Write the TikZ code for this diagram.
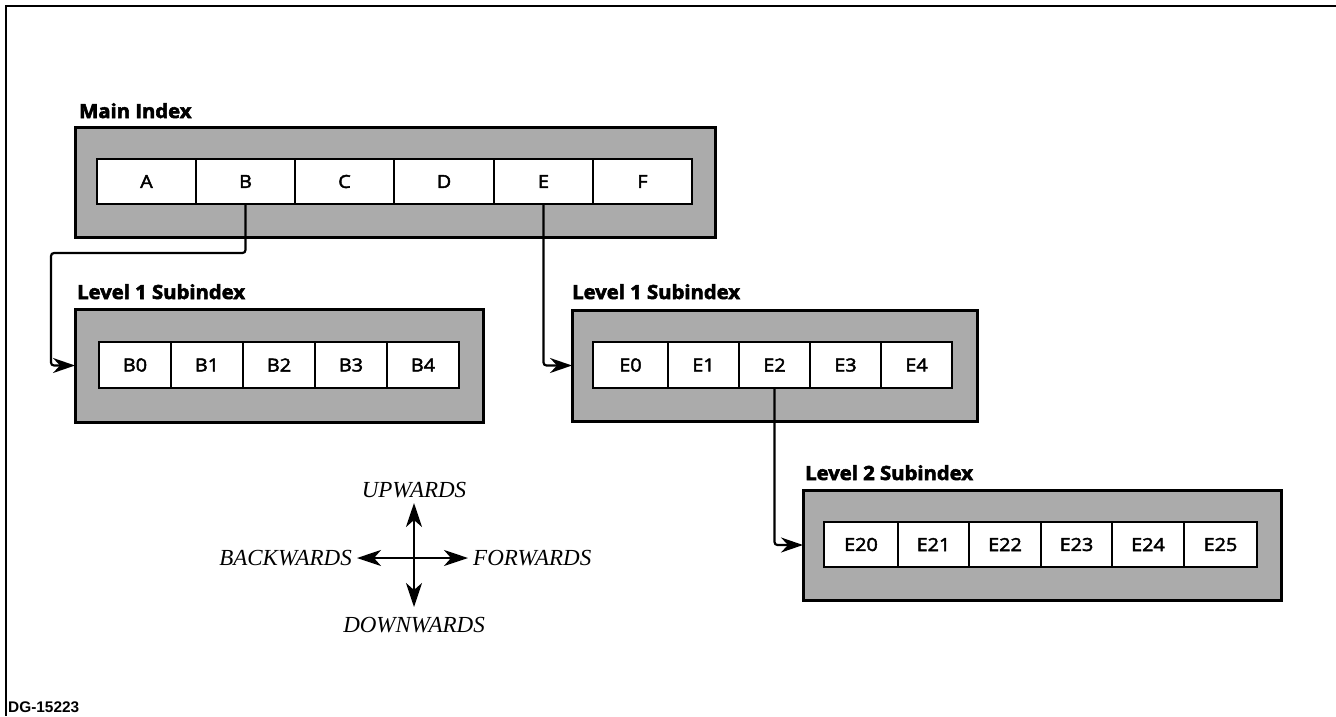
\documentclass[tikz,border=0pt]{standalone}
\usepackage{fontspec}
\setmainfont{Liberation Serif}
\newfontfamily\lblfont{Open Sans}[FakeStretch=1.04, BoldFeatures={FakeBold=3}]
\newfontfamily\cellfont{Open Sans}[FakeStretch=1.1, FakeBold=2.5]
\newfontfamily\dgfont{Liberation Sans}
\usetikzlibrary{arrows.meta}
\definecolor{halftone}{gray}{0.67}
\tikzset{
  panel/.style={draw=black, line width=3pt, fill=halftone, inner sep=0pt, outer sep=0pt},
  cell/.style={draw=black, line width=2.5pt, fill=white, inner sep=0pt, outer sep=0pt,
    font=\cellfont\fontsize{18}{20}\selectfont},
  title/.style={anchor=base west, inner sep=0pt, font=\lblfont\bfseries\fontsize{19.5}{21}\selectfont},
  conn/.style={line width=2.2pt, rounded corners=3pt,
    -{Stealth[length=22pt,width=15pt,inset=7pt]}},
  comp/.style={line width=2.4pt, -{Stealth[length=24pt,width=16pt,inset=7pt]}},
  dirlbl/.style={inner sep=0pt, font=\fontsize{23}{26}\selectfont\itshape},
}
\begin{document}
\begin{tikzpicture}[x=1pt,y=-1pt]
\useasboundingbox (0,0) rectangle (1336,716);
% frame
\draw[line width=2pt] (1336,6) -- (6,6) -- (6,716);

% panels
\node[panel, minimum width=640pt, minimum height=110pt] (mainbox) at (395,182) {};
\node[panel, minimum width=408pt, minimum height=113pt] (L1L) at (279,365.5) {};
\node[panel, minimum width=405pt, minimum height=111pt] (L1R) at (774.5,365.5) {};
\node[panel, minimum width=478pt, minimum height=110pt] (L2) at (1042,545) {};

% titles
\node[title] (tmain) at (79,118) {Main Index};
\node[title] (tL1L) at (77,299) {Level 1 Subindex};
\node[title] (tL1R) at (572,299) {Level 1 Subindex};
\node[title] (tL2) at (805,480) {Level 2 Subindex};

% main index cells
\foreach \l/\r/\t in {97/196/A,196/295/B,295/394/C,394/494/D,494/593/E,593/692/F}
  \node[cell, minimum width={\r-\l}, minimum height=45pt] (\t) at ({(\l+\r)/2},181.5) {\t};

% level 1 left cells
\foreach \l/\r/\t in {99/171/B0,171/243/B1,243/315/B2,315/387/B3,387/459/B4}
  \node[cell, minimum width={\r-\l}, minimum height=46pt] (\t) at ({(\l+\r)/2},365) {\t};

% level 1 right cells
\foreach \l/\r/\t in {593/668/E0,668/739/E1,739/810/E2,810/881/E3,881/952/E4}
  \node[cell, minimum width={\r-\l}, minimum height=46pt] (\t) at ({(\l+\r)/2},365) {\t};

% level 2 cells
\foreach \l/\r/\t in {824/898/E20,898/969/E21,969/1041/E22,1041/1112/E23,1112/1184/E24,1184/1257/E25}
  \node[cell, minimum width={\r-\l}, minimum height=45pt] (\t) at ({(\l+\r)/2},544.5) {\t};

% connectors
\coordinate (bturn) at (51,253);
\draw[conn] (B.south) |- (bturn) |- (L1L.west);
\draw[conn] (E.south) |- (L1R.west);
\draw[conn] (E2.south) |- (L2.west);

% compass
\coordinate (cc) at (414,558);
\node[dirlbl, anchor=base] (up) at (414,497) {UPWARDS};
\node[dirlbl, anchor=base] (down) at (414,632) {DOWNWARDS};
\node[dirlbl, anchor=base east] (back) at (352,565) {BACKWARDS};
\node[dirlbl, anchor=base west] (fwd) at (473,565) {FORWARDS};
\coordinate (upT) at (414,503);
\coordinate (downT) at (414,607);
\coordinate (backT) at (357,558);
\coordinate (fwdT) at (468,558);
\draw[comp] (cc) -- (upT);
\draw[comp] (cc) -- (downT);
\draw[comp] (cc) -- (backT);
\draw[comp] (cc) -- (fwdT);

% figure id
\node[anchor=base west, inner sep=0pt, font=\dgfont\bfseries\fontsize{15.4}{16}\selectfont] (dg) at (8,712) {DG-15223};
\end{tikzpicture}
\end{document}
